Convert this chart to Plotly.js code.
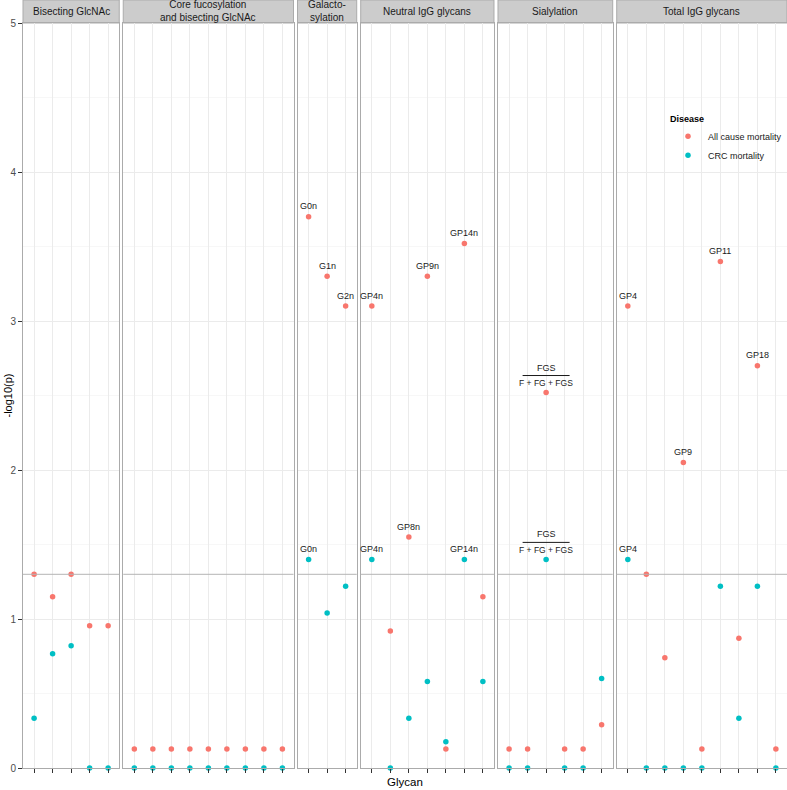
<!DOCTYPE html>
<html><head><meta charset="utf-8">
<script src="https://cdn.plot.ly/plotly-3.0.1.min.js"></script>
<style>html,body{margin:0;padding:0;background:#fff}</style>
</head><body><div id="chart" style="width:787px;height:790px"></div>
<script>
// ---------------- DATA ----------------
const facetNames = ["Bisecting GlcNAc", "Core fucosylation<br>and bisecting GlcNAc", "Galacto-<br>sylation",
  "Neutral IgG glycans", "Sialylation", "Total IgG glycans"];
const seriesNames = ["All cause mortality", "CRC mortality"];
const threshold = 1.3; // -log10(0.05)

const bisectGlycans = ["FBG2/FG2", "FBG2S1/FG2S1", "FBG2S2/FG2S2", "FBS1/FS1", "FBS2/FS2"];
const bisectAll = [1.30, 1.15, 1.30, 0.955, 0.955];
const bisectCRC = [0.334, 0.767, 0.821, 0, 0];

const coreGlycans = ["FG0n/G0n", "FG1n/G1n", "FG2n/G2n", "FBG0n/BG0n", "FBG1n/BG1n", "FBG2n/BG2n", "Fn", "FBn", "FBn/Fn"];
const coreAll = [0.128, 0.128, 0.128, 0.128, 0.128, 0.128, 0.128, 0.128, 0.128];
const coreCRC = [0, 0, 0, 0, 0, 0, 0, 0, 0];

const galGlycans = ["G0n", "G1n", "G2n"];
const galAll = [3.70, 3.30, 3.10];
const galCRC = [1.40, 1.04, 1.22];
const galLabelsAll = ["G0n", "G1n", "G2n"];
const galLabelsCRC = ["G0n", "", ""];

const neutralGlycans = ["GP4n", "GP6n", "GP8n", "GP9n", "GP10n", "GP14n", "GP16n"];
const neutralAll = [3.10, 0.92, 1.55, 3.30, 0.128, 3.52, 1.15];
const neutralCRC = [1.40, 0, 0.334, 0.58, 0.177, 1.40, 0.58];
const neutralLabelsAll = ["GP4n", "", "GP8n", "GP9n", "", "GP14n", ""];
const neutralLabelsCRC = ["GP4n", "", "", "", "", "GP14n", ""];

const sialGlycans = ["FGS/(FG+FGS)", "FBGS/(FBG+FBGS)", "FGS/(F+FG+FGS)", "FBGS/(FB+FBG+FBGS)", "FG1S1/FG1", "FG2S2/FG2"];
const sialAll = [0.128, 0.128, 2.52, 0.128, 0.128, 0.29];
const sialCRC = [0, 0, 1.40, 0, 0, 0.60];
const sialLabelsAll = ["", "", "FGS|F + FG + FGS", "", "", ""];
const sialLabelsCRC = ["", "", "FGS|F + FG + FGS", "", "", ""];

const totalGlycans = ["GP4", "GP5", "GP8", "GP9", "GP10", "GP11", "GP14", "GP18", "GP23"];
const totalAll = [3.10, 1.30, 0.74, 2.05, 0.128, 3.40, 0.87, 2.70, 0.128];
const totalCRC = [1.40, 0, 0, 0, 0, 1.22, 0.334, 1.22, 0];
const totalLabelsAll = ["GP4", "", "", "GP9", "", "GP11", "", "GP18", ""];
const totalLabelsCRC = ["GP4", "", "", "", "", "", "", "", ""];

// ---------------- BUILD ----------------
const empty = n => Array(n).fill("");
const facets = [
  {glycans: bisectGlycans, all: bisectAll, crc: bisectCRC, la: empty(5), lc: empty(5)},
  {glycans: coreGlycans, all: coreAll, crc: coreCRC, la: empty(9), lc: empty(9)},
  {glycans: galGlycans, all: galAll, crc: galCRC, la: galLabelsAll, lc: galLabelsCRC},
  {glycans: neutralGlycans, all: neutralAll, crc: neutralCRC, la: neutralLabelsAll, lc: neutralLabelsCRC},
  {glycans: sialGlycans, all: sialAll, crc: sialCRC, la: sialLabelsAll, lc: sialLabelsCRC},
  {glycans: totalGlycans, all: totalAll, crc: totalCRC, la: totalLabelsAll, lc: totalLabelsCRC}
];
const colors = ["#F8766D", "#00BFC4"];
const FONT = "Liberation Sans, Arial, Helvetica, sans-serif";

const W = 787, H = 790, ML = 23, MR = 0, MT = 23, MB = 22;
const plotW = W - ML - MR, plotH = H - MT - MB, gapPx = 4;
const units = facets.map(f => f.glycans.length + 0.2);
const totalUnits = units.reduce((a, b) => a + b, 0);
const unitPx = (plotW - gapPx * (facets.length - 1)) / totalUnits;

const layout = {
  width: W, height: H,
  margin: {l: ML, r: MR, t: MT, b: MB, pad: 0, autoexpand: false},
  paper_bgcolor: "#fff", plot_bgcolor: "#fff",
  font: {family: FONT, size: 10, color: "#333"},
  showlegend: true,
  legend: {x: (668 - ML) / plotW, y: (768 - 110) / plotH, xanchor: "left", yanchor: "top",
    bgcolor: "rgba(0,0,0,0)", font: {size: 9, color: "#1a1a1a"},
    title: {text: "<b>Disease</b>", font: {size: 9, color: "#000"}},
    itemwidth: 30, tracegroupgap: 0},
  shapes: [], annotations: []
};
const traces = [];
let px = 0;
facets.forEach((f, i) => {
  const k = i === 0 ? "" : String(i + 1);
  const n = f.glycans.length;
  const d0 = px / plotW, d1 = (px + units[i] * unitPx) / plotW;
  px += units[i] * unitPx + gapPx;
  layout["xaxis" + k] = {
    domain: [d0, Math.min(d1, 1)], anchor: "y" + k, type: "category",
    categoryorder: "array", categoryarray: f.glycans, range: [-0.6, n - 0.4],
    showticklabels: false, ticks: "outside", ticklen: 4, tickcolor: "#333", tickwidth: 1,
    showgrid: true, gridcolor: "#ebebeb", gridwidth: 1,
    showline: true, linecolor: "#ababab", linewidth: 1, mirror: true, zeroline: false, fixedrange: true
  };
  layout["yaxis" + k] = {
    domain: [0, 1], anchor: "x" + k, range: [0, 5], dtick: 1, tick0: 0,
    showticklabels: i === 0, ticks: i === 0 ? "outside" : "", ticklen: 4, tickcolor: "#333",
    tickfont: {size: 10, color: "#4d4d4d"},
    showgrid: true, gridcolor: "#ebebeb", gridwidth: 1,
    minor: {dtick: 0.5, showgrid: true, gridcolor: "#f7f7f7", gridwidth: 1},
    showline: true, linecolor: "#ababab", linewidth: 1, mirror: true, zeroline: false, fixedrange: true
  };
  if (i > 0) layout["yaxis" + k].matches = "y";
  // strip
  layout.shapes.push({type: "rect", xref: "paper", yref: "paper", x0: d0, x1: Math.min(d1, 1),
    y0: 1, y1: 1 + MT / plotH, fillcolor: "#cccccc", line: {color: "#ababab", width: 1}, layer: "below"});
  layout.annotations.push({xref: "paper", yref: "paper", x: (d0 + Math.min(d1, 1)) / 2, y: 1 + (MT / 2) / plotH,
    text: facetNames[i], showarrow: false, xanchor: "center", yanchor: "middle",
    font: {size: 10, color: "#1a1a1a"}});
  // threshold line
  layout.shapes.push({type: "line", xref: "x" + k + " domain", yref: "y" + k, x0: 0, x1: 1,
    y0: threshold, y1: threshold, line: {color: "#b5b5b5", width: 1}, layer: "above"});
  // points
  [f.all, f.crc].forEach((vals, s) => {
    traces.push({type: "scatter", mode: "markers", x: f.glycans, y: vals, xaxis: "x" + k, yaxis: "y" + k,
      name: seriesNames[s], legendgroup: seriesNames[s], showlegend: i === 0,
      marker: {color: colors[s], size: 5.5, line: {width: 0}}, cliponaxis: false, hoverinfo: "x+y"});
    const labs = s === 0 ? f.la : f.lc;
    labs.forEach((lab, j) => {
      if (!lab) return;
      if (lab.indexOf("|") >= 0) {
        const [num, den] = lab.split("|");
        layout.annotations.push({xref: "x" + k, yref: "y" + k, x: j, y: vals[j], text: num, showarrow: false,
          yshift: 25, yanchor: "middle", font: {size: 9, color: "#1a1a1a"}});
        layout.annotations.push({xref: "x" + k, yref: "y" + k, x: j, y: vals[j], text: den, showarrow: false,
          yshift: 9.5, yanchor: "middle", font: {size: 8.5, color: "#1a1a1a"}});
        layout.shapes.push({type: "line", xref: "x" + k, yref: "y" + k, xsizemode: "pixel", ysizemode: "pixel",
          xanchor: j, yanchor: vals[j], x0: -23.5, x1: 23.5, y0: 17, y1: 17,
          line: {color: "#1a1a1a", width: 1}, layer: "above"});
      } else {
        layout.annotations.push({xref: "x" + k, yref: "y" + k, x: j, y: vals[j], text: lab, showarrow: false,
          yshift: 10.5, yanchor: "middle", font: {size: 9, color: "#1a1a1a"}});
      }
    });
  });
});
// axis titles
layout.annotations.push({xref: "paper", yref: "paper", x: 0.5, y: 0, yshift: -14, text: "Glycan",
  showarrow: false, xanchor: "center", yanchor: "middle", font: {size: 11.5, color: "#000"}});
layout.annotations.push({xref: "paper", yref: "paper", x: 0, xshift: -16, y: 0.5, text: "-log10(p)",
  textangle: -90, showarrow: false, xanchor: "center", yanchor: "middle", font: {size: 11, color: "#000"}});

Plotly.newPlot("chart", traces, layout, {displayModeBar: false, staticPlot: true});
</script></body></html>
